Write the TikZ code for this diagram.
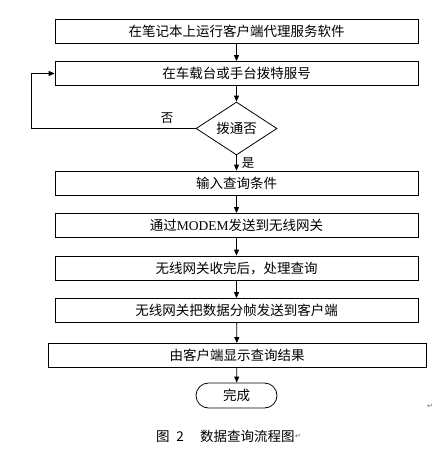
\documentclass[tikz,border=0pt]{standalone}
\usepackage{fontspec}
\setmainfont{Liberation Serif}
\newfontfamily\cjk{Noto Sans CJK SC}
\newfontfamily\symf{DejaVu Sans}
\usetikzlibrary{shapes.geometric,arrows.meta}
\begin{document}
\begin{tikzpicture}[x=1pt,y=-1pt,
  txt/.style={font=\cjk\fontsize{13.5}{15}\selectfont},
  box/.style={txt, draw, line width=0.8pt, minimum height=24pt, minimum width=363pt, inner sep=0pt},
  dec/.style={txt, draw, diamond, line width=0.8pt, minimum width=81pt, minimum height=48pt, inner sep=0pt},
  term/.style={txt, draw, line width=0.8pt, minimum width=81pt, minimum height=25pt, rounded corners=12.5pt, inner sep=0pt},
  arr/.style={-{Triangle[length=6pt,width=5pt]}, line width=0.8pt},
  lbl/.style={font=\cjk\fontsize{12.5}{14}\selectfont},
  ret/.style={font=\symf\fontsize{7}{8}\selectfont, text=black!60}]
\useasboundingbox[fill=white] (0,0) rectangle (442,449);
\node[box] (b1) at (236.5,31) {在笔记本上运行客户端代理服务软件};
\node[box] (b2) at (236.5,73.5) {在车载台或手台拨特服号};
\node[dec] (d) at (236.5,128.5) {拨通否};
\node[box] (b3) at (236.5,183) {输入查询条件};
\node[box] (b4) at (236.5,225.5) {通过{\rmfamily MODEM}发送到无线网关};
\node[box] (b5) at (236.5,268) {无线网关收完后，处理查询};
\node[box] (b6) at (236.5,310.5) {无线网关把数据分帧发送到客户端};
\node[box, minimum width=378pt] (b7) at (237,355.5) {由客户端显示查询结果};
\node[term] (t) at (236.5,395.5) {完成};
\coordinate (lp) at (31,128.5);
\draw[arr] (b1) -- (b2);
\draw[arr] (b2) -- (d);
\draw[arr] (d.west) -- (lp) |- (b2.west);
\draw[arr] (d) -- (b3);
\draw[arr] (b3) -- (b4);
\draw[arr] (b4) -- (b5);
\draw[arr] (b5) -- (b6);
\draw[arr] (b6) -- (b7);
\draw[arr] (b7) -- (t);
\node[lbl] (no) at (167,118) {否};
\node[lbl] (yes) at (248,163) {是};
\node[ret] (r1) at (430,406) {↵};
\node[txt, anchor=west, inner sep=0pt] (cap) at (156,436) {图\hspace{0.5em}2\hspace{1.2em}数据查询流程图};
\node[ret, anchor=west, inner sep=0pt] (r2) at (cap.east) {↵};
\end{tikzpicture}
\end{document}
